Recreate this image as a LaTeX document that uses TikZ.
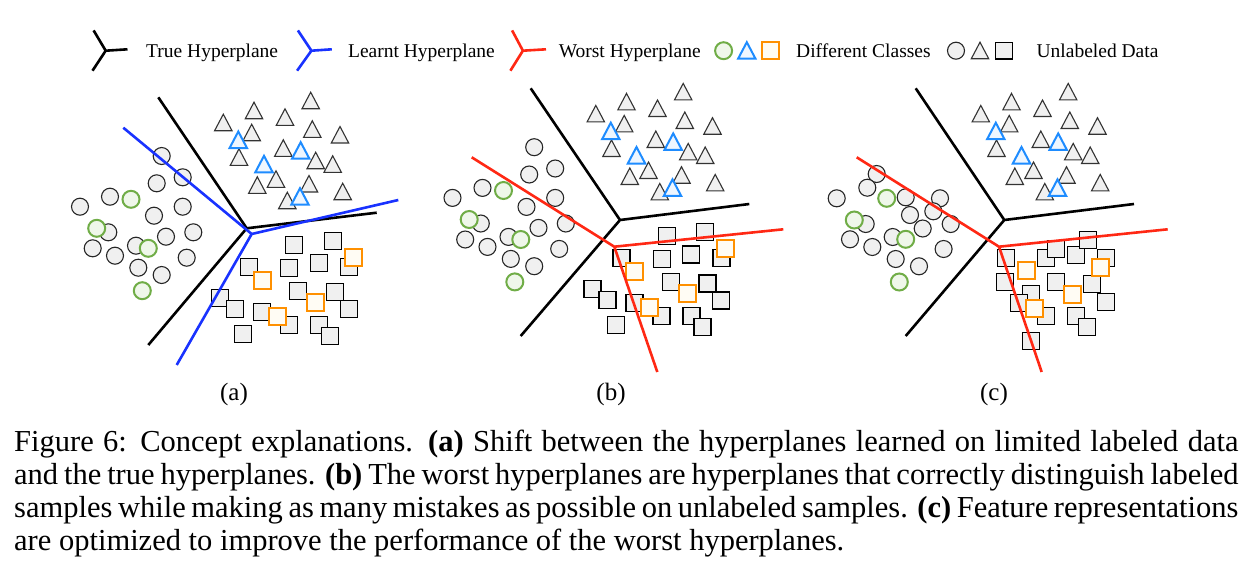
\documentclass[tikz,border=0pt]{standalone}
\usepackage{fontspec}
\setmainfont{Liberation Serif}
\definecolor{ugray}{HTML}{F0F0F0}
\definecolor{lgreen}{HTML}{70AD47}
\definecolor{lgreenfill}{HTML}{EFF7EA}
\definecolor{lblue}{HTML}{1E8CFF}
\definecolor{lbluefill}{HTML}{EEF6FF}
\definecolor{lorange}{HTML}{FF9000}
\definecolor{lorangefill}{HTML}{FFFCF4}
\definecolor{hblue}{HTML}{1932FF}
\definecolor{hred}{HTML}{FF2814}
\def\aGray{161.7/156,156.7/183.3,182.7/177.3,110/196.7,80/206.7,154/215.7,182.7/206.7,108.3/232.3,193.3/232.3,166/236.7,92.7/248.3,115/255.7,136/245.7,186.7/257.7,138.3/267.7,161.7/275}
\def\aGreen{131/199.3,96.7/228.3,148.3/248.3,142.3/290.7}
\def\aTri{223.3/122.7,254/110.7,310.7/100.7,285/117.3,251.7/132.7,312.3/129.3,340/135,283.3/148.3,239/157.3,315.7/160.7,332.7/164.3,276/179.3,257.3/185.3,309/184,287.3/200.7,342.7/191.7}
\def\aBlue{238.3/140,300.7/150.7,264/164.3,300/196.7}
\def\aSq{294.3/245,332.7/240.7,249/266.7,289.3/267.7,318.7/263.3,349/266.7,220/297.7,235/309,298.3/290.7,335/292.3,262/311.7,348.7/309.3,289/325,319/325,243.3/334,330/335.7}
\def\aOr{353.3/257.7,262.3/280,315.3/302.7,277.3/316.7}
\def\cGray{876.7/174,867.3/187.7,836.7/198.3,905.7/197.3,940/198.3,933.3/211.3,910/215,865.7/224,950.7/224,922.7/228.5,850/239.3,872.3/247,892.7/237,943.6/249,895.7/259,919/266.3}
\def\cGreen{886.7/198.3,854.3/220,905.7/239.3,899.3/282}
\def\cSq{1005.7/257.7,1046/258.3,1056/249,1076/255,1087.7/240.3,1105.7/257.7,1005/282.3,1056/282.3,1091.7/284.3,1030.7/294,1019/302.7,1046/316,1105.7/301.7,1076/315.7,1086.7/327.3,1030.7/340.7}
\def\cOr{1100/267.3,1026/270,1072.7/294,1034/308.3}
\begin{document}
\begin{tikzpicture}[x=1pt,y=-1pt,
  ucirc/.style={draw=black!85,fill=ugray,line width=1.1pt},
  lcirc/.style={draw=lgreen,fill=lgreenfill,line width=2pt},
  utri/.style={draw=black!80,fill=ugray,line width=1.1pt},
  ltri/.style={draw=lblue,fill=lbluefill,line width=2pt},
  usq/.style={draw=black,fill=ugray,line width=1.1pt},
  lsq/.style={draw=lorange,fill=lorangefill,line width=2pt},
  hyp/.style={line width=2.6pt},
  legtext/.style={anchor=base west,inner sep=0,font=\fontsize{19.5}{22}\selectfont},
  sublabel/.style={anchor=base,inner sep=0,font=\fontsize{25}{28}\selectfont}]
\useasboundingbox (0,0) rectangle (1243,573);
% ---------- legend ----------
\coordinate (lk) at (105.7,50.7);
\draw[hyp,black] (93.6,30.4) -- (lk) -- (127.5,49.3) (lk) -- (92.5,70.7);
\node[legtext] (t1) at (146,57.9) {True Hyperplane};
\coordinate (lb) at (311.4,50.7);
\draw[hyp,hblue] (297.9,30.4) -- (lb) -- (331.8,49.3) (lb) -- (297.1,70.7);
\node[legtext] (t2) at (347.9,57.9) {Learnt Hyperplane};
\coordinate (lr) at (522.9,50.7);
\draw[hyp,hred] (512.1,30.4) -- (lr) -- (546,49.3) (lr) -- (510.4,70.7);
\node[legtext] (t3) at (558.6,57.9) {Worst Hyperplane};
\path[lcirc] (723.6,50.7) circle[radius=8.5];
\path[ltri] (746.8,50.7) +(0,-8.5) -- +(8.7,8) -- +(-8.7,8) -- cycle;
\path[lsq] (770.4,50.7) +(-8.3,-8.3) rectangle +(8.3,8.3);
\node[legtext] (t4) at (796,57.9) {Different Classes};
\path[ucirc] (956,50.7) circle[radius=8.5];
\path[utri] (980,50.7) +(0,-8.5) -- +(8.7,8) -- +(-8.7,8) -- cycle;
\path[usq] (1003.9,50.7) +(-8.3,-8.3) rectangle +(8.3,8.3);
\node[legtext] (t5) at (1036.4,57.9) {Unlabeled Data};
% ---------- panel (a) ----------
\foreach \x/\y in \aGray {\path[ucirc] (\x,\y) circle[radius=8.5];}
\foreach \x/\y in \aGreen {\path[lcirc] (\x,\y) circle[radius=8.5];}
\foreach \x/\y in \aTri {\path[utri] (\x,\y) +(0,-8.5) -- +(8.7,8) -- +(-8.7,8) -- cycle;}
\foreach \x/\y in \aBlue {\path[ltri] (\x,\y) +(0,-8.5) -- +(8.7,8) -- +(-8.7,8) -- cycle;}
\foreach \x/\y in \aSq {\path[usq] (\x,\y) +(-8.5,-8.5) rectangle +(8.5,8.5);}
\foreach \x/\y in \aOr {\path[lsq] (\x,\y) +(-8.5,-8.5) rectangle +(8.5,8.5);}
\coordinate (ak) at (246.7,228.3);
\draw[hyp,black] (158.3,97.3) -- (ak) -- (376.7,212.7) (ak) -- (148.3,345);
\coordinate (ab) at (251.7,234);
\draw[hyp,hblue] (123.3,127.7) -- (ab) -- (398.3,200) (ab) -- (176.7,365);
\node[sublabel] (la) at (234,400) {(a)};
% ---------- panel (b) ----------
\begin{scope}[shift={(372.5,-8.8)}]
\foreach \x/\y in \aGray {\path[ucirc] (\x,\y) circle[radius=8.5];}
\foreach \x/\y in \aGreen {\path[lcirc] (\x,\y) circle[radius=8.5];}
\foreach \x/\y in \aTri {\path[utri] (\x,\y) +(0,-8.5) -- +(8.7,8) -- +(-8.7,8) -- cycle;}
\foreach \x/\y in \aBlue {\path[ltri] (\x,\y) +(0,-8.5) -- +(8.7,8) -- +(-8.7,8) -- cycle;}
\foreach \x/\y in \aSq {\path[usq] (\x,\y) +(-8.5,-8.5) rectangle +(8.5,8.5);}
\foreach \x/\y in \aOr {\path[lsq] (\x,\y) +(-8.5,-8.5) rectangle +(8.5,8.5);}
\end{scope}
\coordinate (bk) at (620,220);
\draw[hyp,black] (530.7,88.3) -- (bk) -- (749.3,204) (bk) -- (520.7,336);
\coordinate (br) at (614.3,246.7);
\draw[hyp,hred] (471.7,157.3) -- (br) -- (783.3,229.3) (br) -- (657.3,372);
\node[sublabel] (lbl) at (611,400) {(b)};
% ---------- panel (c) ----------
\foreach \x/\y in \cGray {\path[ucirc] (\x,\y) circle[radius=8.5];}
\foreach \x/\y in \cGreen {\path[lcirc] (\x,\y) circle[radius=8.5];}
\begin{scope}[shift={(757.5,-8.8)}]
\foreach \x/\y in \aTri {\path[utri] (\x,\y) +(0,-8.5) -- +(8.7,8) -- +(-8.7,8) -- cycle;}
\foreach \x/\y in \aBlue {\path[ltri] (\x,\y) +(0,-8.5) -- +(8.7,8) -- +(-8.7,8) -- cycle;}
\end{scope}
\foreach \x/\y in \cSq {\path[usq] (\x,\y) +(-8.5,-8.5) rectangle +(8.5,8.5);}
\foreach \x/\y in \cOr {\path[lsq] (\x,\y) +(-8.5,-8.5) rectangle +(8.5,8.5);}
\coordinate (ck) at (1004.3,220);
\draw[hyp,black] (915.7,88.3) -- (ck) -- (1134,204) (ck) -- (905.7,336);
\coordinate (cr) at (999,246.7);
\draw[hyp,hred] (856.7,157.3) -- (cr) -- (1167.7,229.3) (cr) -- (1041.7,372);
\node[sublabel] (lc) at (994,400) {(c)};
% ---------- caption ----------
\node[anchor=base west,inner sep=0] (cap) at (14,451) {\parbox[t]{1224.3pt}{\fontsize{30.5}{33}\selectfont\hyphenpenalty=10000\exhyphenpenalty=10000
Figure 6: Concept explanations. \textbf{(a)} Shift between the hyperplanes learned on limited labeled data\linebreak
and the true hyperplanes. \textbf{(b)} The worst hyperplanes are hyperplanes that correctly distinguish labeled\linebreak
samples while making as many mistakes as possible on unlabeled samples. \textbf{(c)} Feature representations\linebreak
are optimized to improve the performance of the worst hyperplanes.}};
\end{tikzpicture}
\end{document}
